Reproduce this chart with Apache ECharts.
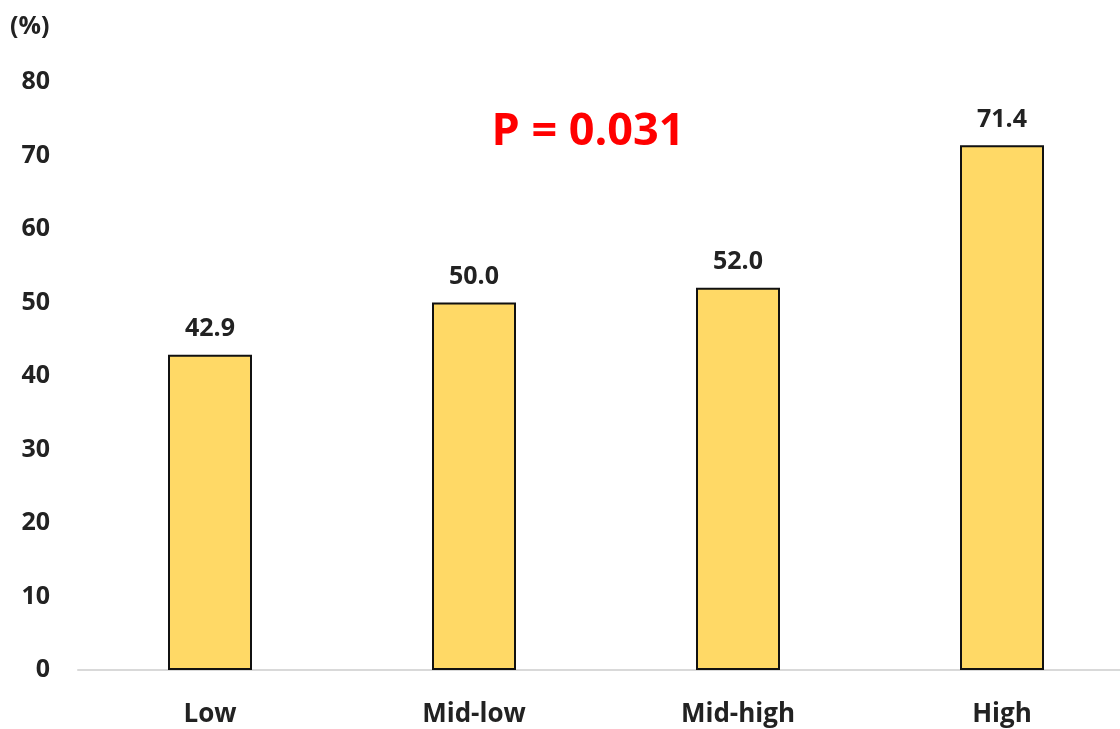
<!DOCTYPE html>
<html>
<head>
<meta charset="utf-8">
<script src="https://cdn.jsdelivr.net/npm/echarts@6/dist/echarts.min.js"></script>
<style>
  html, body { margin: 0; padding: 0; background: #ffffff; }
  #chart { width: 1120px; height: 729px; }
</style>
</head>
<body>
<div id="chart"></div>
<script>
// Groups along the x axis
const categories = ['Low', 'Mid-low', 'Mid-high', 'High'];
// Percentage per group
const values = [42.9, 50.0, 52.0, 71.4];
// Y axis range and step (%)
const yMin = 0;
const yMax = 80;
const yStep = 10;
// Annotation text
const pValueText = 'P = 0.031';
const unitText = '(%)';

const fontFamily = '"Open Sans", "Noto Sans", sans-serif';

const chart = echarts.init(document.getElementById('chart'), null, { renderer: 'canvas' });

chart.setOption({
  backgroundColor: '#ffffff',
  animation: false,
  // plot area runs slightly past the right edge of the canvas
  grid: {
    left: 78, width: 1056, top: 82, bottom: 59,
    containLabel: false,
    outerBoundsMode: 'none'
  },
  xAxis: {
    type: 'category',
    data: categories,
    axisLine: { show: true, lineStyle: { color: '#d9d9d9', width: 2 } },
    axisTick: { show: false },
    axisLabel: {
      margin: 32,
      color: '#222222',
      fontFamily: fontFamily,
      fontWeight: 'bold',
      fontSize: 26
    }
  },
  yAxis: {
    type: 'value',
    min: yMin,
    max: yMax,
    interval: yStep,
    axisLine: { show: false },
    axisTick: { show: false },
    splitLine: { show: false },
    axisLabel: {
      margin: 28,
      color: '#222222',
      fontFamily: fontFamily,
      fontWeight: 'bold',
      fontSize: 25
    }
  },
  graphic: [
    {
      type: 'text',
      left: 10,
      top: 14,
      style: {
        text: unitText,
        fill: '#222222',
        font: 'bold 25px ' + fontFamily
      }
    },
    {
      type: 'text',
      x: 588,
      y: 132,
      style: {
        text: pValueText,
        fill: '#ff0000',
        font: 'bold 45px ' + fontFamily,
        align: 'center',
        verticalAlign: 'middle'
      }
    }
  ],
  series: [
    {
      type: 'bar',
      data: values,
      barWidth: 84,
      itemStyle: {
        color: '#ffd966',
        borderColor: '#111111',
        borderWidth: 2
      },
      label: {
        show: true,
        position: 'top',
        distance: 13,
        formatter: (p) => p.value.toFixed(1),
        color: '#222222',
        fontFamily: fontFamily,
        fontWeight: 'bold',
        fontSize: 25
      }
    }
  ]
});
</script>
</body>
</html>
